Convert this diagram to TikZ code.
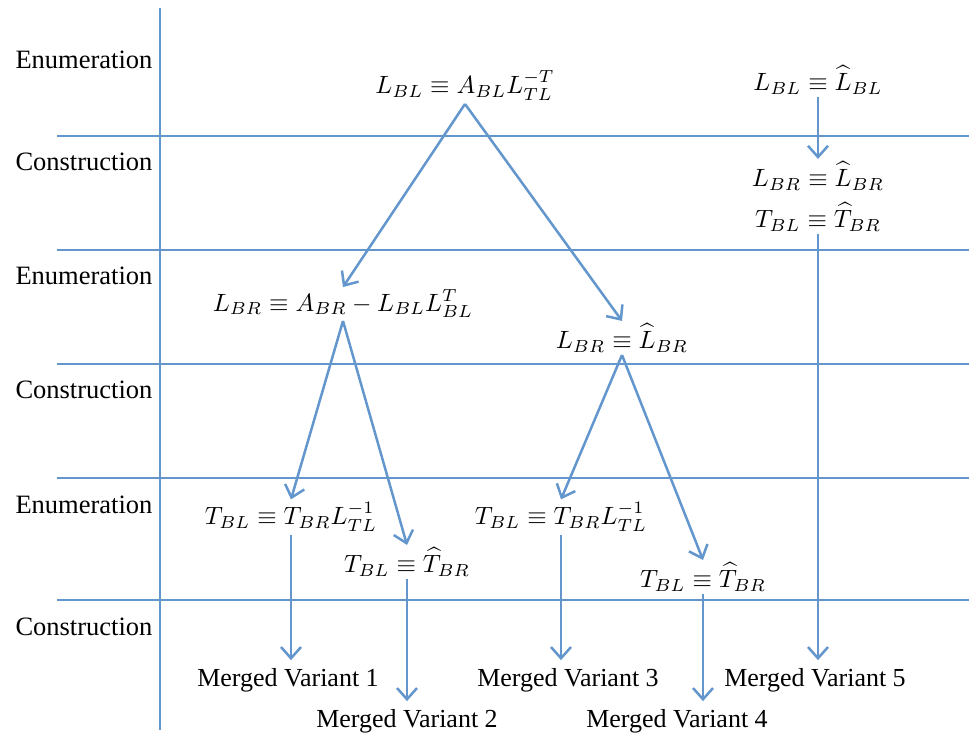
\documentclass[tikz,border=0pt]{standalone}
\usepackage[no-math]{fontspec}
\setmainfont{Liberation Serif}
\usepackage{amsmath}
\usepackage{xcolor}
\usetikzlibrary{arrows.meta}
\definecolor{lineblue}{RGB}{98,150,204}

\begin{document}
\begin{tikzpicture}[x=0.4pt,y=-0.4pt,font=\normalsize,>={Straight Barb[length=4.5pt,width=8pt]}]
    \tikzset{
      rule/.style={draw=lineblue,line width=1pt},
      phase/.style={anchor=west,inner sep=0pt,font=\fontsize{10.6pt}{12pt}\selectfont},
      eq/.style={inner sep=1pt},
      res/.style={inner sep=3pt,font=\fontsize{10.4pt}{12pt}\selectfont},
      ar/.style={->,draw=lineblue,line width=1pt}}
    \useasboundingbox (0,0) rectangle (969,738);
    \draw[rule] (160,8) -- (160,730);
    \foreach \y in {136,250,364,478,600} \draw[rule] (57,\y) -- (969,\y);
    \foreach \i/\y/\t in {1/60/Enumeration,2/162/Construction,3/276/Enumeration,4/390/Construction,5/505/Enumeration,6/627/Construction}
      \node[phase] (p\i) at (15,\y) {\t};
    \node[eq] (n1) at (465,86)  {$L_{BL} \equiv A_{BL}L_{TL}^{-T}$};
    \node[eq] (n2) at (343,304) {$L_{BR} \equiv A_{BR} - L_{BL}L_{BL}^{T}$};
    \node[eq] (n3) at (622,338) {$L_{BR} \equiv \widehat{L}_{BR}$};
    \node[eq] (n4) at (291,517) {$T_{BL} \equiv T_{BR}L_{TL}^{-1}$};
    \node[eq] (n5) at (407,562) {$T_{BL} \equiv \widehat{T}_{BR}$};
    \node[eq] (n6) at (561,517) {$T_{BL} \equiv T_{BR}L_{TL}^{-1}$};
    \node[eq] (n7) at (703,577) {$T_{BL} \equiv \widehat{T}_{BR}$};
    \node[eq] (r1) at (818,80)  {$L_{BL} \equiv \widehat{L}_{BL}$};
    \node[eq] (r2) at (818,176) {$L_{BR} \equiv \widehat{L}_{BR}$};
    \node[eq] (r3) at (818,217) {$T_{BL} \equiv \widehat{T}_{BR}$};
    \node[res] (m1) at (288,680) {Merged Variant 1};
    \node[res] (m2) at (407,721) {Merged Variant 2};
    \node[res] (m3) at (568,680) {Merged Variant 3};
    \node[res] (m4) at (677,721) {Merged Variant 4};
    \node[res] (m5) at (815,680) {Merged Variant 5};
    \foreach \a/\b in {n1/n2,n1/n3,n2/n4,n2/n5,n3/n6,n3/n7,r1/r2} \draw[ar] (\a.south) -- (\b.north);
    \foreach \a/\b in {n4/m1,n5/m2,n6/m3,n7/m4,r3/m5} \draw[ar] (\a.south) -- (\a.south |- \b.north);
  \end{tikzpicture}
\end{document}
